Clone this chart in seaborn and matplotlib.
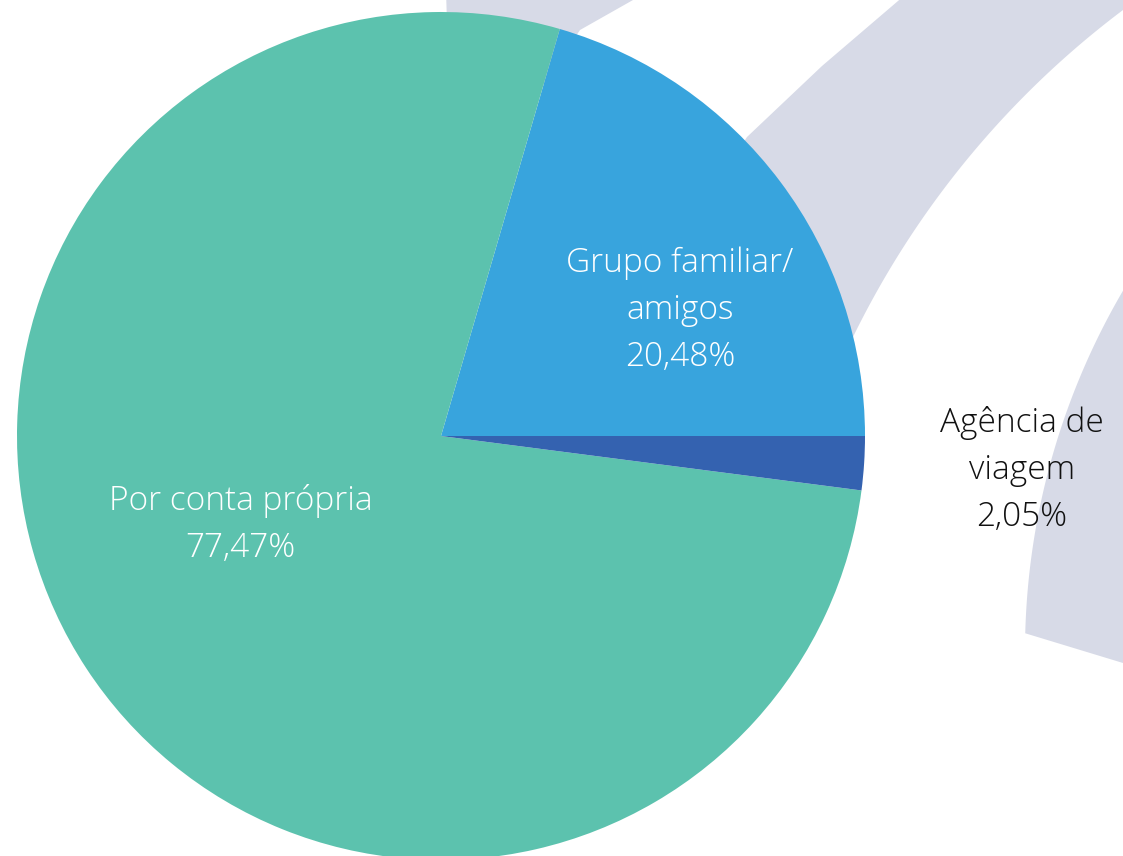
import numpy as np
import matplotlib.pyplot as plt
from matplotlib.patches import Polygon
import seaborn as sns

# --- Dados ---
categorias = ['Grupo familiar/\namigos', 'Por conta própria', 'Agência de\nviagem']
percentuais = [20.48, 77.47, 2.05]
rotulos_pct = ['20,48%', '77,47%', '2,05%']

# cores das fatias e dos textos
cores = sns.color_palette(['#38A4DD', '#5CC2AE', '#3462B0'])
cores_texto = ['white', 'white', '#111111']
# posição dos rótulos: (distância do centro, desvio em graus do meio da fatia)
pos_rotulos = [(0.637, -9.1), (0.516, -9.4), (1.372, 0.35)]

sns.set_theme(style='white')
plt.rcParams['font.family'] = ['Open Sans', 'DejaVu Sans']

W, H = 1123, 856
fig = plt.figure(figsize=(W / 100, H / 100), dpi=100)

# --- Marca d'água ao fundo (arcos cinza) ---
bg = fig.add_axes([0, 0, 1, 1])
bg.set_xlim(0, W)
bg.set_ylim(H, 0)
bg.axis('off')
cinza = '#D7DAE7'


def arco(cx, cy, r, a0, a1, n=80):
    t = np.radians(np.linspace(a0, a1, n))
    return np.column_stack([cx + r * np.cos(t), cy + r * np.sin(t)])


# faixa superior
borda_a = arco(1668, 735, 907, -124, -162)
faixa_a = np.vstack([borda_a, [[640, 300], [747, 137], [822, 66], [905, -5], [912, -20], [1170, -20]]])
bg.add_patch(Polygon(faixa_a, closed=True, color=cinza, lw=0))

# pedaço no topo, atrás da pizza
bg.add_patch(Polygon([[446, -10], [645, -10], [633, 0], [580, 30], [540, 90], [449, 90]],
                     closed=True, color=cinza, lw=0))

# faixa da direita
borda_b = arco(1740, 652, 715, -145, -178.5)
faixa_b = np.vstack([borda_b, [[1123, 663], [1200, 688], [1200, 230]]])
bg.add_patch(Polygon(faixa_b, closed=True, color=cinza, lw=0))

# --- Gráfico de Pizza ---
ax = fig.add_axes([-89 / W, -110 / H, 1060 / W, 1060 / H])
ax.set_facecolor('none')
fatias, _ = ax.pie(percentuais, colors=cores, startangle=0, counterclock=True,
                   radius=1, wedgeprops={'linewidth': 0})
ax.set_xlim(-1.25, 1.25)
ax.set_ylim(-1.25, 1.25)
ax.set_aspect('equal')
ax.axis('off')

for fatia, cat, pct, cor, (dist, desvio) in zip(fatias, categorias, rotulos_pct, cores_texto, pos_rotulos):
    meio = np.radians((fatia.theta1 + fatia.theta2) / 2 + desvio)
    ax.text(dist * np.cos(meio), dist * np.sin(meio), f'{cat}\n{pct}',
            ha='center', va='center', color=cor, fontsize=24, fontweight='light',
            linespacing=1.53)

fig.savefig('out.png', dpi=100)
